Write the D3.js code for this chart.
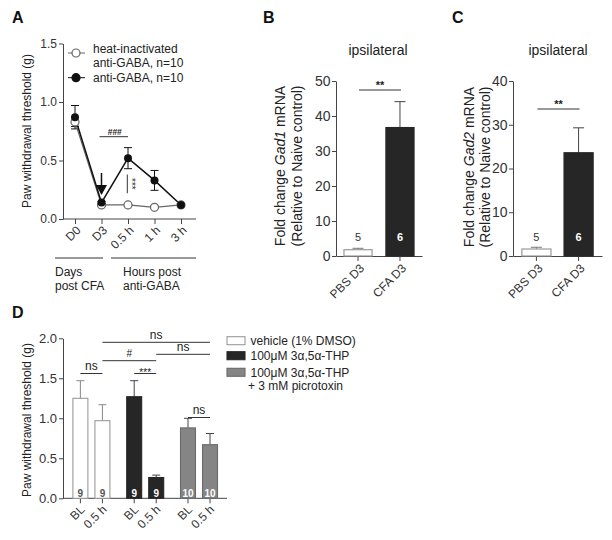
<!DOCTYPE html>
<html><head><meta charset="utf-8">
<script src="https://cdn.jsdelivr.net/npm/d3@7"></script>
<style>
body{margin:0;background:#fff}
text{font-family:"Liberation Sans",Arial,sans-serif;fill:#222}
</style>
</head><body>
<svg id="c" width="612" height="540"></svg>
<script>
// ---------- Panel A data ----------
const timeCats = ["D0", "D3", "0.5 h", "1 h", "3 h"];
const antiGABA = [0.87, 0.14, 0.52, 0.33, 0.12];
const antiGABAErr = [0.10, 0.01, 0.09, 0.085, 0.01];
const heatInact = [0.83, 0.12, 0.12, 0.10, 0.12];
const heatInactErr = [0.04, 0.01, 0.01, 0.01, 0.01];
const aTicks = [0, 0.5, 1.0, 1.5];
const aLegend = [["heat-inactivated", "anti-GABA, n=10"], ["anti-GABA, n=10"]];
const aGroupLabels = [["Days", "post CFA"], ["Hours post", "anti-GABA"]];

// ---------- Panel B / C data ----------
const mrnaCats = ["PBS D3", "CFA D3"];
const gad1 = [1.8, 36.7];
const gad1Err = [0.4, 7.4];
const gad2 = [1.6, 23.6];
const gad2Err = [0.4, 5.7];
const mrnaN = [5, 6];
const bTicks = [0, 10, 20, 30, 40, 50];
const cTicks = [0, 10, 20, 30, 40];

// ---------- Panel D data ----------
const dGroups = ["vehicle", "THP", "THP+picrotoxin"];
const dTimes = ["BL", "0.5 h"];
const dValues = [[1.25, 0.97], [1.27, 0.26], [0.88, 0.67]];
const dErr = [[0.22, 0.20], [0.20, 0.03], [0.12, 0.14]];
const dN = [[9, 9], [9, 9], [10, 10]];
const dTicks = [0, 0.5, 1.0, 1.5, 2.0];
const dLegend = [["vehicle (1% DMSO)"], ["100\u03bcM 3\u03b1,5\u03b1-THP"], ["100\u03bcM 3\u03b1,5\u03b1-THP", "+ 3 mM picrotoxin"]];
// significance: [group a, time a, group b, time b, level, label]
const dSig = [
  [0, 0, 0, 1, 1.56, "ns"],
  [1, 0, 1, 1, 1.56, "***"],
  [0, 1, 1, 1, 1.72, "#"],
  [1, 1, 2, 1, 1.80, "ns"],
  [0, 1, 2, 1, 1.95, "ns"],
  [2, 0, 2, 1, 1.01, "ns"]
];

const svg = d3.select("#c");
const AX = "#444";
const DARK = "#262626", GRAY = "#858585", OPEN_STROKE = "#9a9a9a";

function styleAxis(g, fs) {
  g.selectAll(".domain").attr("stroke", AX);
  g.selectAll(".tick line").attr("stroke", AX);
  g.selectAll(".tick text").style("font-size", fs + "px").style("fill", "#333")
    .style("font-family", '"Liberation Sans",Arial,sans-serif');
}
function rotateTicks(g, tx, ty) {
  g.selectAll(".tick text").attr("x", 0).attr("y", 0).attr("dy", "0.35em")
    .attr("transform", `translate(${tx},${ty}) rotate(-45)`).style("text-anchor", "end");
}
function letter(t, x, y) {
  svg.append("text").attr("x", x).attr("y", y).text(t)
    .style("font-size", "16px").style("font-weight", "bold").style("fill", "#111");
}
function multiline(g, lines, x, y, xs, lh, fs) {
  const t = g.append("text").attr("x", x).attr("y", y).style("font-size", fs + "px");
  lines.forEach((s, j) => t.append("tspan").attr("x", xs ? xs[j] : x).attr("dy", j ? lh : 0).text(s));
  return t;
}

// ================= Panel A =================
(function () {
  const x = d3.scalePoint().domain(timeCats).range([75, 181]);
  const y = d3.scaleLinear().domain([0, 1.5]).range([219, 43.5]);
  const g = svg.append("g");
  letter("A", 12, 23);

  const ya = g.append("g").attr("transform", "translate(63,0)")
    .call(d3.axisLeft(y).tickValues(aTicks).tickFormat(d3.format(".1f")).tickSize(4).tickPadding(2).tickSizeOuter(0));
  styleAxis(ya, 12);
  const xa = g.append("g").attr("transform", "translate(0,219)")
    .call(d3.axisBottom(x).tickSize(5).tickSizeOuter(0));
  xa.select(".domain").remove();
  styleAxis(xa, 12);
  rotateTicks(xa, 3, 9);
  g.append("line").attr("x1", 63).attr("x2", 196).attr("y1", 219).attr("y2", 219).attr("stroke", AX);

  g.append("text").attr("transform", "translate(31,131) rotate(-90)").attr("text-anchor", "middle")
    .style("font-size", "12px").text("Paw withdrawal threshold (g)");

  const spans = [[55, 103], [111, 196]];
  spans.forEach((s, i) => {
    g.append("line").attr("x1", s[0]).attr("x2", s[1]).attr("y1", 258).attr("y2", 258).attr("stroke", "#333");
    multiline(g, aGroupLabels[i], i === 0 ? 55 : 123, 276, null, 13.5, 12);
  });

  const line = d3.line().x((d, i) => x(timeCats[i])).y(d => y(d));
  function errs(vals, e) {
    vals.forEach((v, i) => {
      const cx = x(timeCats[i]);
      g.append("line").attr("x1", cx).attr("x2", cx).attr("y1", y(v - e[i])).attr("y2", y(v + e[i])).attr("stroke", "#111");
      [v - e[i], v + e[i]].forEach(b => g.append("line").attr("x1", cx - 4).attr("x2", cx + 4)
        .attr("y1", y(b)).attr("y2", y(b)).attr("stroke", "#111"));
    });
  }
  errs(heatInact, heatInactErr);
  errs(antiGABA, antiGABAErr);
  g.append("path").attr("d", line(heatInact)).attr("fill", "none").attr("stroke", "#666").attr("stroke-width", 1.2);
  g.append("path").attr("d", line(antiGABA)).attr("fill", "none").attr("stroke", "#111").attr("stroke-width", 1.5);
  heatInact.forEach((v, i) => g.append("circle").attr("cx", x(timeCats[i])).attr("cy", y(v)).attr("r", 4)
    .attr("fill", "#fff").attr("stroke", "#666").attr("stroke-width", 1.2));
  antiGABA.forEach((v, i) => g.append("circle").attr("cx", x(timeCats[i])).attr("cy", y(v)).attr("r", 4)
    .attr("fill", "#111"));

  // arrow at D3
  const ax = x("D3");
  g.append("line").attr("x1", ax).attr("x2", ax).attr("y1", 173).attr("y2", 186).attr("stroke", "#111").attr("stroke-width", 1.5);
  g.append("path").attr("d", `M${ax - 5.5},185 L${ax + 5.5},185 L${ax},195 Z`).attr("fill", "#111");

  // ### annotation
  g.append("line").attr("x1", x("D3") - 2).attr("x2", x("0.5 h")).attr("y1", 136.7).attr("y2", 136.7).attr("stroke", "#333");
  g.append("text").attr("x", (x("D3") + x("0.5 h")) / 2).attr("y", 135).attr("text-anchor", "middle")
    .style("font-size", "8.5px").style("font-weight", "bold").text("###");
  // *** vertical
  const sx = x("0.5 h") - 0.7;
  g.append("line").attr("x1", sx).attr("x2", sx).attr("y1", y(0.38)).attr("y2", y(0.22)).attr("stroke", "#333");
  g.append("text").attr("transform", `translate(${sx + 2},${(y(0.38) + y(0.22)) / 2}) rotate(90)`)
    .attr("text-anchor", "middle").attr("dy", "0.1em").style("font-size", "10px").style("fill", "#333").text("***");

  // legend
  const leg = [[53, false, 53], [77.7, true, 82]];
  leg.forEach((l, i) => {
    g.append("line").attr("x1", 68).attr("x2", 85).attr("y1", l[0]).attr("y2", l[0]).attr("stroke", l[1] ? "#111" : "#666");
    g.append("circle").attr("cx", 76).attr("cy", l[0]).attr("r", 4)
      .attr("fill", l[1] ? "#111" : "#fff").attr("stroke", l[1] ? "#111" : "#666").attr("stroke-width", 1.2);
    multiline(g, aLegend[i], 93, l[2], null, 13.5, 12);
  });
})();

// ================= Panels B & C =================
function mrnaPanel(opt) {
  const g = svg.append("g");
  letter(opt.letter, opt.lx, 23);
  const x = d3.scaleBand().domain(mrnaCats).range(opt.xr).paddingInner(opt.pi).paddingOuter(opt.po);
  const y = d3.scaleLinear().domain([0, opt.max]).range([256, 81]);
  g.append("text").attr("x", opt.titleX).attr("y", 55).attr("text-anchor", "middle").style("font-size", "14px").text("ipsilateral");

  const ya = g.append("g").attr("transform", `translate(${opt.xr[0]},0)`)
    .call(d3.axisLeft(y).tickValues(opt.ticks).tickSize(4).tickPadding(1.5).tickSizeOuter(0));
  styleAxis(ya, 14);
  const xa = g.append("g").attr("transform", "translate(0,256)")
    .call(d3.axisBottom(x).tickSize(5).tickSizeOuter(0));
  styleAxis(xa, 12);
  rotateTicks(xa, 4, 10);

  const l1 = g.append("text").attr("transform", `translate(${opt.ylx1},${opt.ylc}) rotate(-90)`)
    .attr("text-anchor", "middle").style("font-size", "14px");
  l1.append("tspan").text("Fold change ");
  l1.append("tspan").style("font-style", "italic").text(opt.gene);
  l1.append("tspan").text(" mRNA");
  g.append("text").attr("transform", `translate(${opt.ylx2},${opt.ylc}) rotate(-90)`)
    .attr("text-anchor", "middle").style("font-size", "14px").text("(Relative to Naive control)");

  mrnaCats.forEach((c, i) => {
    const v = opt.vals[i], e = opt.errs[i];
    const cx = x(c) + x.bandwidth() / 2;
    g.append("line").attr("x1", cx).attr("x2", cx).attr("y1", y(v)).attr("y2", y(v + e)).attr("stroke", i ? "#444" : "#777");
    g.append("line").attr("x1", cx - 5.5).attr("x2", cx + 5.5).attr("y1", y(v + e)).attr("y2", y(v + e)).attr("stroke", i ? "#444" : "#777");
    g.append("rect").attr("x", x(c)).attr("y", y(v)).attr("width", x.bandwidth()).attr("height", y(0) - y(v))
      .attr("fill", i ? DARK : "#fff").attr("stroke", i ? DARK : OPEN_STROKE).attr("stroke-width", 1.2);
    g.append("text").attr("x", cx).attr("y", 241).attr("text-anchor", "middle").style("font-size", "11px")
      .style("font-weight", i ? "bold" : "normal").style("fill", i ? "#fff" : "#333").text(mrnaN[i]);
  });
  const x0 = x(mrnaCats[0]) + x.bandwidth() / 2 + 1, x1 = x(mrnaCats[1]) + x.bandwidth() / 2 + 1;
  g.append("line").attr("x1", x0).attr("x2", x1).attr("y1", opt.sigY).attr("y2", opt.sigY).attr("stroke", "#333");
  g.append("text").attr("x", (x0 + x1) / 2).attr("y", opt.sigY - 1).attr("text-anchor", "middle")
    .style("font-size", "11px").style("font-weight", "bold").text("**");
}
mrnaPanel({letter: "B", lx: 263, xr: [336, 422], pi: 0.33, po: 0.19, max: 50, ticks: bTicks,
  vals: gad1, errs: gad1Err, gene: "Gad1", titleX: 378, ylx1: 285, ylx2: 302, ylc: 166, sigY: 90});
mrnaPanel({letter: "C", lx: 452, xr: [513, 602], pi: 0.31, po: 0.21, max: 40, ticks: cTicks,
  vals: gad2, errs: gad2Err, gene: "Gad2", titleX: 558, ylx1: 474, ylx2: 490, ylc: 167, sigY: 109});

// ================= Panel D =================
(function () {
  const g = svg.append("g");
  letter("D", 12, 318);
  const gx = d3.scalePoint().domain(dGroups).range([91.4, 199]);
  const ix = d3.scaleBand().domain(dTimes).range([-18.5, 18.5]).paddingInner(0.32).paddingOuter(0);
  const y = d3.scaleLinear().domain([0, 2]).range([498.3, 338.3]);
  const cxOf = (gi, ti) => gx(dGroups[gi]) + ix(dTimes[ti]) + ix.bandwidth() / 2;
  const fills = ["#fff", DARK, GRAY], strokes = [OPEN_STROKE, DARK, "#6a6a6a"];

  const ya = g.append("g").attr("transform", "translate(63,0)")
    .call(d3.axisLeft(y).tickValues(dTicks).tickFormat(d3.format(".1f")).tickSize(4).tickPadding(2).tickSizeOuter(0));
  styleAxis(ya, 13);
  g.append("line").attr("x1", 63).attr("x2", 227).attr("y1", 498.3).attr("y2", 498.3).attr("stroke", AX);
  g.append("text").attr("transform", "translate(31,420) rotate(-90)").attr("text-anchor", "middle")
    .style("font-size", "12px").text("Paw withdrawal threshold (g)");

  dGroups.forEach((grp, gi) => {
    const xa = g.append("g").attr("transform", `translate(${gx(grp)},498.3)`)
      .call(d3.axisBottom(ix).tickSize(5).tickSizeOuter(0));
    xa.select(".domain").remove();
    styleAxis(xa, 12);
    rotateTicks(xa, 2, 9);
    dTimes.forEach((t, ti) => {
      const v = dValues[gi][ti], e = dErr[gi][ti];
      const cx = cxOf(gi, ti);
      g.append("line").attr("x1", cx).attr("x2", cx).attr("y1", y(v)).attr("y2", y(v + e)).attr("stroke", gi ? "#444" : "#888");
      g.append("line").attr("x1", cx - 4).attr("x2", cx + 4).attr("y1", y(v + e)).attr("y2", y(v + e)).attr("stroke", gi ? "#444" : "#888");
      g.append("rect").attr("x", gx(grp) + ix(t)).attr("y", y(v)).attr("width", ix.bandwidth()).attr("height", y(0) - y(v))
        .attr("fill", fills[gi]).attr("stroke", strokes[gi]).attr("stroke-width", 1.1);
      g.append("text").attr("x", cx).attr("y", 496.5).attr("text-anchor", "middle").style("font-size", "10px")
        .style("font-weight", "bold").style("fill", gi ? "#fff" : "#555").text(dN[gi][ti]);
    });
  });

  dSig.forEach(s => {
    const x0 = cxOf(s[0], s[1]), x1 = cxOf(s[2], s[3]), yy = y(s[4]);
    g.append("line").attr("x1", x0).attr("x2", x1).attr("y1", yy).attr("y2", yy).attr("stroke", "#333");
    const isNs = s[5] === "ns";
    g.append("text").attr("x", (x0 + x1) / 2).attr("y", isNs ? yy - 3.5 : (s[5] === "#" ? yy - 4 : yy + 2))
      .attr("text-anchor", "middle").style("font-size", isNs ? "12px" : "10px").text(s[5]);
  });

  const ly = [340.7, 355.7, 372.3];
  dLegend.forEach((lab, i) => {
    g.append("rect").attr("x", 227).attr("y", ly[i] - 4).attr("width", 18).attr("height", 8)
      .attr("fill", fills[i]).attr("stroke", strokes[i]).attr("stroke-width", 1.1);
    multiline(g, lab, 250.5, ly[i] + 4.5, [250.5, 248], 13.5, 12);
  });
})();
</script>
</body></html>
